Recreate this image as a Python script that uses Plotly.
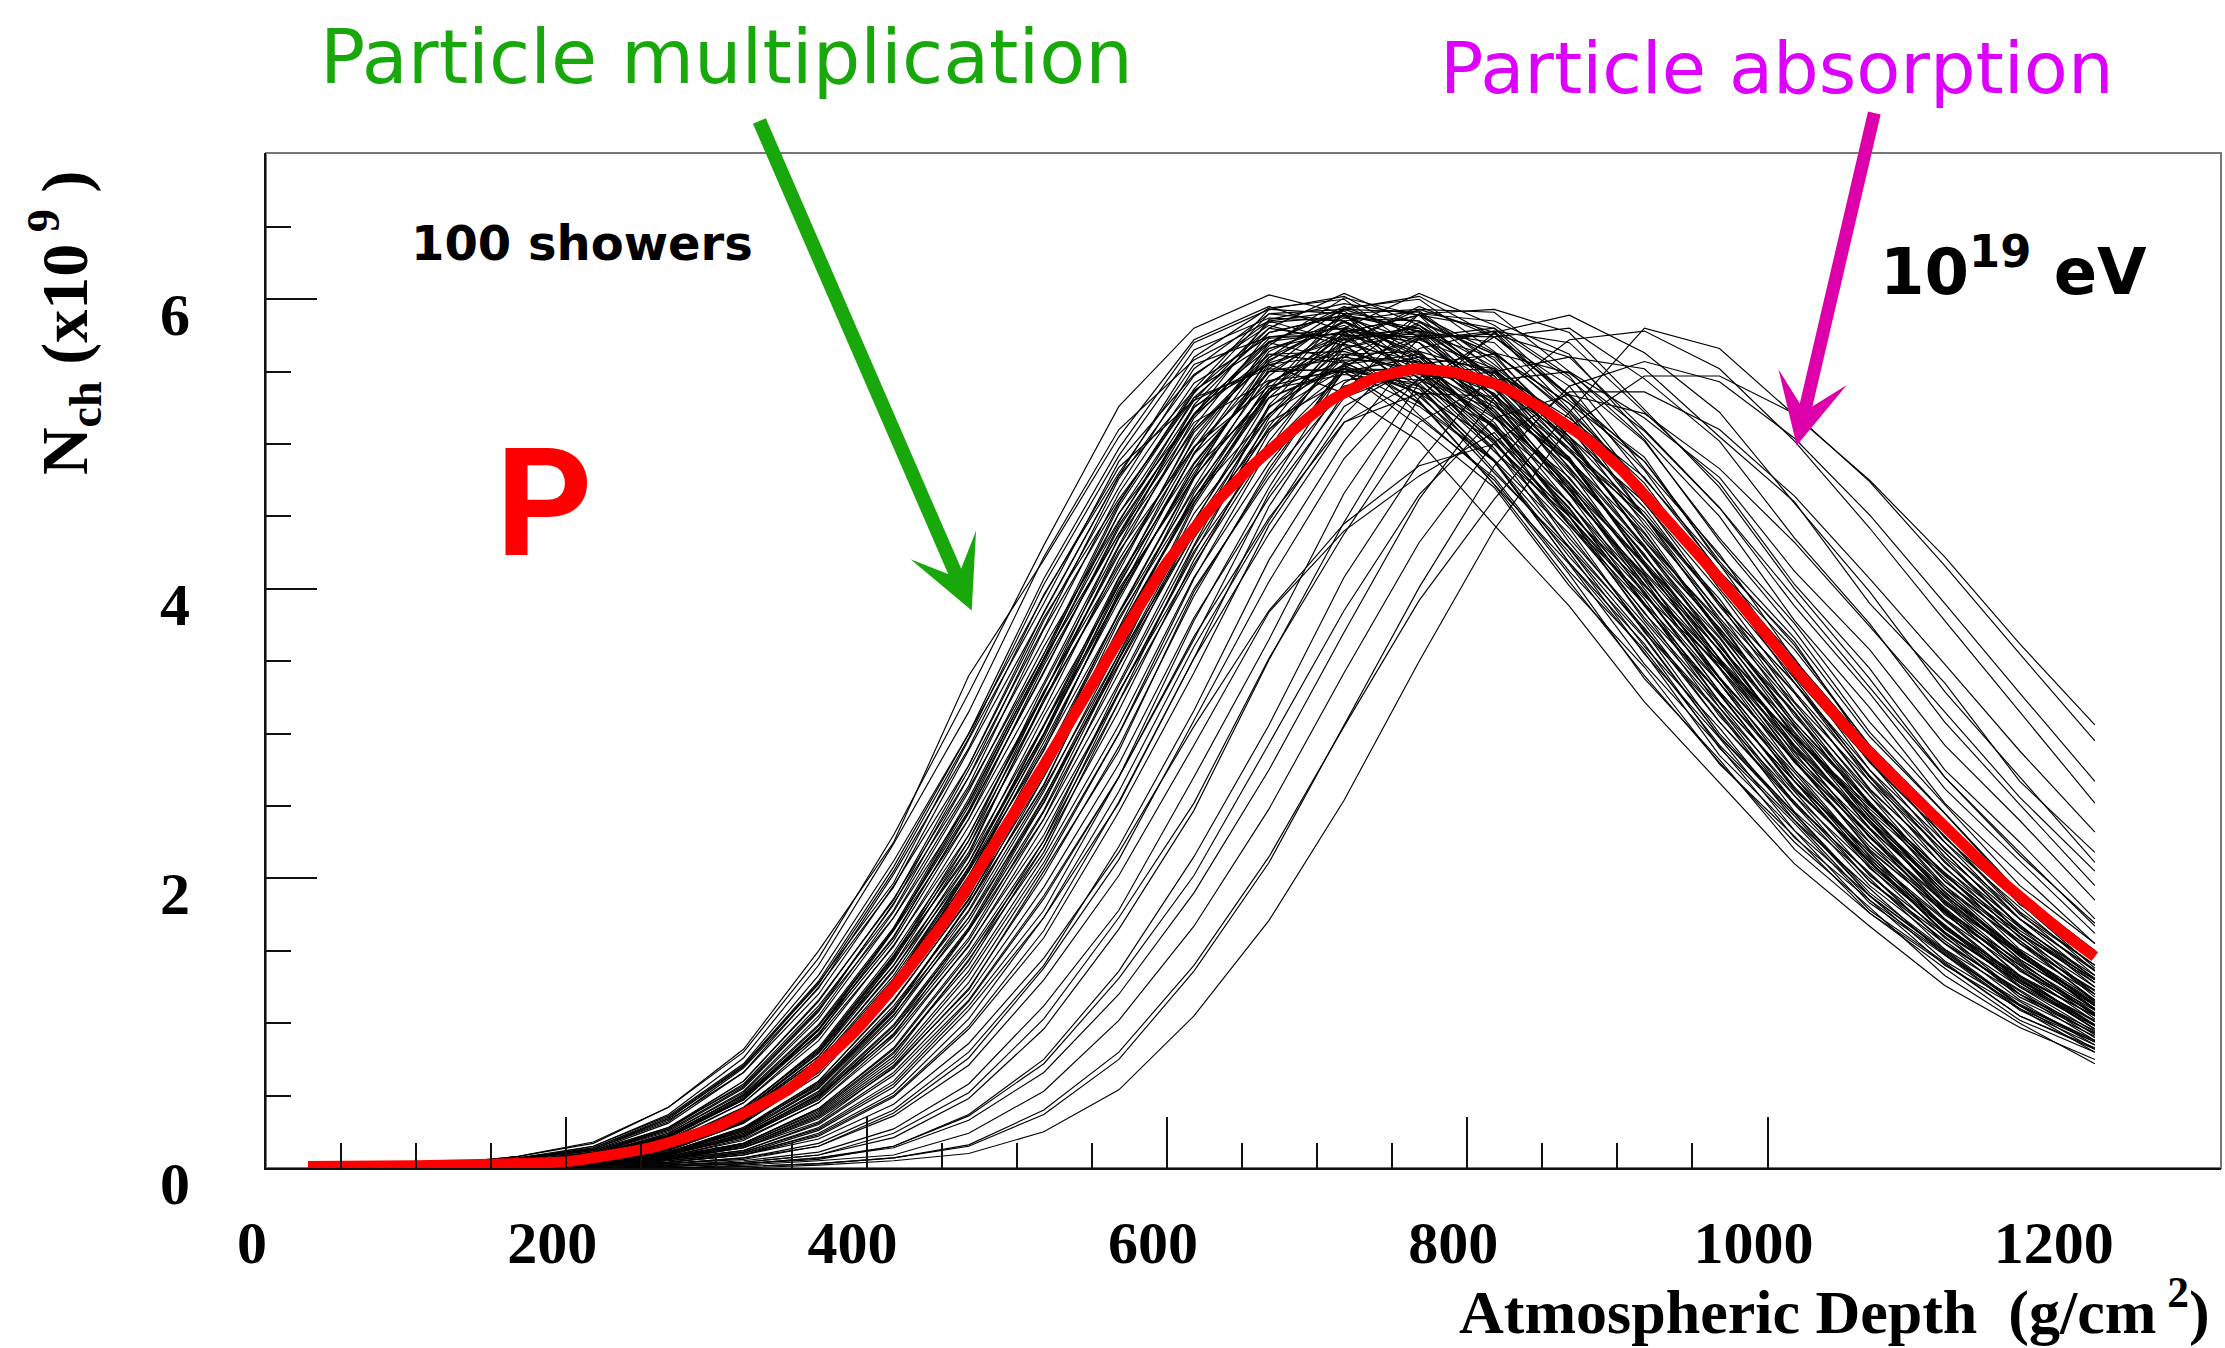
import plotly.graph_objects as go

# Atmospheric depth grid (g/cm^2) of the individual shower profiles
DEPTH = [118, 168, 218, 268, 318, 368, 418, 468, 518, 568, 618, 668,
         718, 768, 818, 868, 918, 968, 1018, 1068, 1118, 1168, 1218]

# Individual showers, N_ch (x10^9), grouped by depth of maximum
EARLY_SHOWERS = [
    [.03,.08,.17,.42,.82,1.50,2.25,3.40,4.20,5.05,5.72,5.95,5.78,5.30,4.72,4.05,3.40,2.80,2.25,1.80,1.33,1.00,.72],
    [.02,.06,.15,.37,.76,1.40,2.24,3.15,4.22,5.10,5.58,5.85,5.70,5.20,4.75,4.10,3.38,2.82,2.20,1.76,1.38,1.02,.80],
    [.03,.08,.18,.42,.80,1.45,2.30,3.28,4.30,5.26,5.80,6.03,5.90,5.40,4.88,4.18,3.56,2.85,2.33,1.78,1.42,1.05,.83],
    [.03,.07,.15,.36,.72,1.33,2.12,3.00,3.95,4.84,5.30,5.55,5.35,5.02,4.44,3.88,3.22,2.66,2.10,1.67,1.26,.97,.75],
    [.03,.06,.14,.34,.70,1.28,1.97,2.96,3.90,4.88,5.48,5.82,5.68,5.40,4.82,4.25,3.55,2.97,2.33,1.88,1.43,1.12,.82],
    [.03,.06,.14,.35,.71,1.29,2.08,3.00,4.07,4.97,5.70,5.93,5.90,5.50,5.03,4.32,3.71,3.00,2.45,1.90,1.51,1.13,.88],
    [.03,.06,.12,.31,.66,1.20,1.95,2.78,3.80,4.62,5.32,5.52,5.50,5.12,4.70,4.02,3.46,2.79,2.29,1.76,1.41,1.05,.82],
    [.03,.07,.13,.32,.69,1.24,2.03,2.90,3.96,4.80,5.55,5.74,5.76,5.33,4.88,4.18,3.62,2.90,2.38,1.83,1.47,1.09,.85],
    [.03,.06,.13,.33,.66,1.25,1.94,2.89,3.83,4.78,5.37,5.70,5.57,5.29,4.72,4.17,3.48,2.91,2.28,1.85,1.40,1.10,.80],
    [.03,.06,.13,.34,.70,1.27,2.05,2.97,4.03,4.92,5.65,5.87,5.85,5.45,4.97,4.28,3.67,2.98,2.43,1.88,1.49,1.12,.87],
    [.02,.05,.11,.27,.58,1.12,1.78,2.70,3.65,4.66,5.42,5.74,5.80,5.45,5.02,4.35,3.76,3.08,2.51,1.95,1.55,1.16,.91],
    [.02,.06,.12,.28,.60,1.15,1.86,2.70,3.78,4.70,5.52,5.90,5.85,5.62,5.05,4.50,3.78,3.18,2.52,2.03,1.55,1.22,.90],
    [.02,.05,.09,.24,.53,1.05,1.77,2.62,3.55,4.52,5.20,5.62,5.56,5.35,4.80,4.28,3.60,3.04,2.40,1.93,1.47,1.15,.85],
    [.02,.05,.10,.27,.60,1.16,1.85,2.78,3.84,4.78,5.60,5.94,6.00,5.64,5.20,4.50,3.90,3.18,2.60,2.02,1.62,1.20,.95],
    [.02,.04,.09,.24,.52,1.03,1.73,2.52,3.52,4.38,5.15,5.44,5.50,5.18,4.77,4.12,3.58,2.92,2.40,1.85,1.48,1.10,.87],
    [.02,.05,.10,.25,.55,1.08,1.83,2.64,3.72,4.60,5.36,5.80,5.72,5.52,4.95,4.42,3.70,3.14,2.46,2.00,1.51,1.20,.88],
    [.02,.05,.11,.28,.57,1.10,1.82,2.75,3.73,4.76,5.47,5.85,5.92,5.55,5.12,4.44,3.84,3.12,2.57,1.98,1.60,1.18,.93],
    [.02,.05,.10,.26,.56,1.09,1.73,2.60,3.60,4.47,5.26,5.55,5.62,5.28,4.88,4.22,3.66,2.98,2.45,1.88,1.50,1.12,.88],
]

MIDEARLY_SHOWERS = [
    [.02,.04,.09,.22,.49,.96,1.59,2.46,3.42,4.44,5.20,5.73,5.76,5.60,5.10,4.56,3.88,3.28,2.62,2.12,1.62,1.28,.96],
    [.02,.04,.10,.23,.50,.98,1.64,2.53,3.52,4.57,5.35,5.90,5.93,5.77,5.24,4.70,4.00,3.38,2.70,2.18,1.67,1.32,.99],
    [.02,.04,.08,.20,.45,.91,1.53,2.36,3.28,4.26,4.98,5.50,5.52,5.38,4.89,4.38,3.72,3.15,2.51,2.04,1.55,1.23,.92],
    [.02,.05,.10,.23,.50,.92,1.64,2.41,3.47,4.38,5.25,5.66,5.82,5.53,5.15,4.50,3.93,3.22,2.67,2.07,1.66,1.25,.98],
    [.02,.04,.09,.21,.48,.96,1.65,2.47,3.51,4.46,5.32,5.77,5.89,5.63,5.22,4.59,3.98,3.29,2.70,2.11,1.68,1.28,.99],
    [.02,.04,.09,.22,.47,.93,1.57,2.41,3.35,4.35,5.10,5.62,5.64,5.49,5.00,4.47,3.80,3.21,2.57,2.08,1.59,1.25,.94],
    [.02,.05,.09,.22,.51,.99,1.66,2.55,3.55,4.59,5.38,5.93,6.02,5.74,5.33,4.68,4.06,3.35,2.75,2.15,1.72,1.30,1.01],
    [.02,.04,.08,.19,.45,.88,1.54,2.30,3.29,4.17,4.98,5.40,5.52,5.26,4.88,4.29,3.73,3.08,2.53,1.98,1.57,1.20,.93],
    [.02,.04,.09,.21,.47,.95,1.60,2.45,3.43,4.42,5.21,5.71,5.77,5.58,5.11,4.55,3.89,3.27,2.63,2.11,1.63,1.28,.96],
    [.02,.04,.09,.22,.48,.95,1.65,2.50,3.49,4.52,5.30,5.84,5.88,5.70,5.20,4.65,3.96,3.35,2.67,2.16,1.65,1.31,.98],
    [.01,.03,.07,.17,.40,.80,1.40,2.22,3.16,4.20,5.02,5.66,5.78,5.70,5.22,4.73,4.03,3.45,2.75,2.25,1.72,1.37,1.01],
    [.01,.03,.08,.17,.41,.82,1.47,2.22,3.28,4.24,5.18,5.70,5.95,5.74,5.40,4.76,4.17,3.46,2.87,2.25,1.80,1.36,1.07],
    [.01,.03,.07,.15,.37,.75,1.36,2.15,3.06,4.08,4.87,5.50,5.60,5.52,5.05,4.60,3.90,3.35,2.67,2.18,1.66,1.33,.98],
    [.01,.03,.07,.17,.41,.83,1.49,2.26,3.33,4.30,5.27,5.80,6.04,5.82,5.47,4.83,4.24,3.51,2.91,2.28,1.83,1.38,1.09],
    [.01,.03,.06,.15,.36,.73,1.33,2.11,3.00,4.00,4.77,5.38,5.48,5.42,4.95,4.50,3.83,3.28,2.61,2.14,1.62,1.30,.96],
    [.01,.03,.07,.16,.38,.77,1.44,2.18,3.22,4.15,5.08,5.60,5.84,5.62,5.28,4.66,4.09,3.39,2.81,2.20,1.76,1.33,1.05],
    [.01,.03,.07,.16,.39,.79,1.43,2.26,3.22,4.29,5.12,5.77,5.89,5.80,5.33,4.82,4.11,3.52,2.81,2.29,1.75,1.40,1.03],
    [.01,.03,.07,.16,.38,.77,1.40,2.11,3.12,4.02,4.93,5.43,5.66,5.46,5.12,4.53,3.97,3.29,2.73,2.13,1.71,1.29,1.02],
    [.01,.03,.08,.18,.42,.81,1.46,2.16,3.24,4.12,5.10,5.58,5.85,5.60,5.30,4.65,4.10,3.38,2.82,2.19,1.77,1.32,1.05],
    [.01,.03,.07,.16,.39,.80,1.45,2.30,3.27,4.36,5.20,5.86,5.97,5.89,5.40,4.89,4.17,3.57,2.85,2.34,1.78,1.43,1.05],
    [.01,.03,.07,.15,.38,.75,1.37,2.07,3.06,3.94,4.83,5.32,5.54,5.35,5.02,4.44,3.89,3.22,2.67,2.09,1.67,1.26,.99],
    [.01,.03,.06,.14,.34,.69,1.24,2.02,2.91,3.95,4.83,5.54,5.75,5.74,5.34,4.88,4.19,3.61,2.91,2.38,1.84,1.47,1.10],
    [.01,.03,.06,.14,.35,.71,1.28,2.08,3.00,4.07,4.97,5.70,5.93,5.91,5.50,5.03,4.33,3.71,3.01,2.45,1.90,1.50,1.13],
    [.01,.03,.06,.12,.31,.66,1.20,1.94,2.79,3.80,4.63,5.32,5.52,5.51,5.13,4.69,4.03,3.46,2.80,2.29,1.77,1.40,1.06],
    [.01,.03,.07,.14,.32,.70,1.23,2.05,2.88,3.98,4.80,5.56,5.72,5.78,5.30,4.91,4.17,3.63,2.88,2.40,1.82,1.48,1.09],
    [.01,.03,.06,.13,.34,.68,1.29,2.01,2.99,3.97,4.94,5.57,5.89,5.78,5.47,4.90,4.30,3.61,3.00,2.38,1.91,1.46,1.14],
    [.01,.03,.06,.13,.33,.66,1.24,1.95,2.89,3.83,4.77,5.38,5.69,5.57,5.28,4.73,4.16,3.49,2.90,2.29,1.84,1.41,1.10],
    [.01,.03,.07,.14,.35,.72,1.31,2.06,3.05,4.05,5.04,5.68,6.01,5.89,5.58,5.00,4.39,3.69,3.06,2.42,1.95,1.49,1.16],
    [.01,.03,.06,.12,.31,.64,1.21,1.88,2.80,3.71,4.63,5.21,5.52,5.40,5.12,4.59,4.03,3.38,2.81,2.22,1.78,1.37,1.06],
    [.01,.03,.06,.13,.33,.67,1.27,1.99,2.94,3.92,4.86,5.50,5.79,5.70,5.38,4.84,4.23,3.57,2.95,2.35,1.87,1.44,1.12],
    [.01,.03,.06,.13,.34,.70,1.28,2.05,2.97,4.03,4.93,5.64,5.87,5.85,5.45,4.97,4.28,3.67,2.98,2.43,1.88,1.49,1.12],
    [.01,.03,.06,.13,.32,.67,1.21,1.96,2.82,3.83,4.68,5.36,5.58,5.57,5.19,4.72,4.07,3.49,2.83,2.31,1.79,1.42,1.07],
]

MIDLATE_SHOWERS = [
    [0,.02,.05,.11,.27,.58,1.12,1.78,2.70,3.65,4.66,5.42,5.74,5.80,5.45,5.02,4.35,3.76,3.08,2.51,1.95,1.55,1.16],
    [0,.02,.05,.11,.28,.60,1.15,1.86,2.70,3.78,4.70,5.52,5.90,5.85,5.62,5.05,4.50,3.78,3.18,2.52,2.03,1.55,1.22],
    [0,.02,.05,.09,.24,.53,1.05,1.77,2.62,3.55,4.52,5.20,5.62,5.56,5.35,4.80,4.28,3.60,3.04,2.40,1.93,1.47,1.15],
    [0,.02,.05,.10,.27,.60,1.16,1.85,2.78,3.84,4.78,5.60,5.94,6.00,5.64,5.20,4.50,3.90,3.18,2.60,2.02,1.62,1.20],
    [0,.02,.04,.09,.24,.52,1.03,1.73,2.52,3.52,4.38,5.15,5.44,5.50,5.18,4.77,4.12,3.58,2.92,2.40,1.85,1.48,1.10],
    [0,.02,.05,.10,.25,.55,1.08,1.83,2.64,3.72,4.60,5.36,5.80,5.72,5.52,4.95,4.42,3.70,3.14,2.46,2.00,1.51,1.20],
    [0,.02,.05,.11,.28,.57,1.10,1.82,2.75,3.73,4.76,5.47,5.85,5.92,5.55,5.12,4.44,3.84,3.12,2.57,1.98,1.60,1.18],
    [0,.02,.05,.10,.26,.56,1.09,1.73,2.60,3.60,4.47,5.26,5.55,5.62,5.28,4.88,4.22,3.66,2.98,2.45,1.88,1.50,1.12],
    [0,.02,.05,.10,.26,.59,1.08,1.82,2.65,3.70,4.62,5.42,5.70,5.82,5.40,5.05,4.33,3.78,3.05,2.52,1.93,1.57,1.15],
    [0,.02,.05,.10,.25,.55,1.06,1.70,2.56,3.48,4.44,5.10,5.50,5.44,5.24,4.70,4.18,3.52,2.97,2.34,1.89,1.44,1.13],
    [0,.02,.04,.09,.22,.49,.96,1.59,2.46,3.42,4.44,5.20,5.73,5.76,5.60,5.10,4.56,3.88,3.28,2.62,2.12,1.62,1.28],
    [0,.02,.04,.10,.23,.50,.98,1.64,2.53,3.52,4.57,5.35,5.90,5.93,5.77,5.24,4.70,4.00,3.38,2.70,2.18,1.67,1.31],
    [0,.02,.04,.08,.20,.45,.91,1.53,2.36,3.28,4.26,4.98,5.50,5.52,5.38,4.89,4.38,3.72,3.15,2.51,2.04,1.55,1.23],
    [0,.02,.05,.10,.23,.50,.92,1.64,2.41,3.47,4.38,5.25,5.66,5.82,5.53,5.15,4.50,3.93,3.22,2.67,2.07,1.66,1.25],
    [0,.02,.04,.09,.21,.48,.96,1.65,2.47,3.51,4.46,5.32,5.77,5.89,5.63,5.22,4.59,3.98,3.29,2.70,2.11,1.68,1.28],
    [0,.02,.04,.09,.22,.47,.93,1.57,2.41,3.35,4.35,5.10,5.62,5.64,5.49,5.00,4.47,3.80,3.21,2.57,2.08,1.59,1.25],
    [0,.02,.05,.09,.22,.51,.99,1.66,2.55,3.55,4.59,5.38,5.93,6.02,5.74,5.33,4.68,4.06,3.35,2.75,2.15,1.72,1.30],
    [0,.02,.04,.08,.19,.45,.88,1.54,2.30,3.29,4.17,4.98,5.40,5.52,5.26,4.88,4.29,3.73,3.08,2.53,1.98,1.57,1.20],
    [0,.01,.03,.07,.17,.40,.80,1.40,2.22,3.16,4.20,5.02,5.66,5.78,5.70,5.22,4.73,4.03,3.45,2.75,2.25,1.72,1.37],
    [0,.01,.03,.08,.17,.41,.82,1.47,2.22,3.28,4.24,5.18,5.70,5.95,5.74,5.40,4.76,4.17,3.46,2.87,2.25,1.80,1.36],
    [0,.01,.03,.07,.15,.37,.75,1.36,2.15,3.06,4.08,4.87,5.50,5.60,5.52,5.05,4.60,3.90,3.35,2.67,2.18,1.66,1.33],
    [0,.01,.03,.07,.17,.41,.83,1.49,2.26,3.33,4.30,5.27,5.80,6.04,5.82,5.47,4.83,4.24,3.51,2.91,2.28,1.83,1.38],
    [0,.01,.03,.06,.15,.36,.73,1.33,2.11,3.00,4.00,4.77,5.38,5.48,5.42,4.95,4.50,3.83,3.28,2.61,2.14,1.62,1.30],
    [0,.01,.03,.07,.16,.38,.77,1.44,2.18,3.22,4.15,5.08,5.60,5.84,5.62,5.28,4.66,4.09,3.39,2.81,2.20,1.76,1.33],
    [0,.01,.03,.07,.16,.39,.79,1.43,2.26,3.22,4.29,5.12,5.77,5.89,5.80,5.33,4.82,4.11,3.52,2.81,2.29,1.75,1.40],
]

LATE_SHOWERS = [
    [0,.01,.03,.06,.14,.34,.69,1.24,2.02,2.91,3.95,4.83,5.54,5.75,5.74,5.34,4.88,4.19,3.61,2.91,2.38,1.84,1.47],
    [0,.01,.03,.06,.14,.35,.71,1.28,2.08,3.00,4.07,4.97,5.70,5.93,5.91,5.50,5.03,4.33,3.71,3.01,2.45,1.90,1.50],
    [0,.01,.03,.06,.12,.31,.66,1.20,1.94,2.79,3.80,4.63,5.32,5.52,5.51,5.13,4.69,4.03,3.46,2.80,2.29,1.77,1.40],
    [0,.01,.03,.07,.14,.32,.70,1.23,2.05,2.88,3.98,4.80,5.56,5.72,5.78,5.30,4.91,4.17,3.63,2.88,2.40,1.82,1.48],
    [0,.01,.03,.06,.12,.30,.64,1.16,1.88,2.70,3.67,4.49,5.15,5.35,5.33,4.97,4.53,3.90,3.35,2.71,2.21,1.72,1.36],
    [0,0,.02,.05,.11,.27,.58,1.12,1.78,2.70,3.65,4.66,5.42,5.74,5.80,5.45,5.02,4.35,3.76,3.08,2.51,1.95,1.55],
    [0,0,.02,.05,.11,.28,.60,1.15,1.86,2.70,3.78,4.70,5.52,5.90,5.85,5.62,5.05,4.50,3.78,3.18,2.52,2.03,1.55],
    [0,0,.02,.04,.09,.24,.52,1.03,1.73,2.52,3.52,4.38,5.15,5.44,5.50,5.18,4.77,4.12,3.58,2.92,2.40,1.85,1.48],
    [0,0,.02,.05,.10,.26,.56,1.09,1.73,2.60,3.60,4.47,5.26,5.55,5.62,5.28,4.88,4.22,3.66,2.98,2.45,1.88,1.50],
    [0,.01,.02,.04,.09,.22,.49,.96,1.59,2.46,3.42,4.44,5.20,5.73,5.76,5.60,5.10,4.56,3.88,3.28,2.62,2.12,1.62],
    [0,.01,.02,.04,.10,.23,.50,.98,1.64,2.53,3.52,4.57,5.35,5.90,5.93,5.77,5.24,4.70,4.00,3.38,2.70,2.18,1.67],
    [0,.01,.02,.04,.09,.20,.44,.86,1.45,2.18,3.05,3.85,4.45,4.85,5.00,4.52,4.02,3.50,2.98,2.48,2.02,1.62,1.28],
    [0,0,.01,.03,.07,.17,.40,.80,1.40,2.22,3.16,4.20,5.02,5.66,5.78,5.70,5.22,4.73,4.03,3.45,2.75,2.25,1.72],
    [0,0,.01,.03,.06,.15,.36,.71,1.30,2.02,2.92,3.84,4.40,4.78,5.08,4.45,3.95,3.48,2.98,2.50,2.04,1.64,1.30],
    [0,0,.01,.03,.07,.15,.38,.76,1.38,2.13,3.09,4.05,4.90,5.46,5.63,5.49,5.09,4.56,3.94,3.32,2.70,2.16,1.69],
]

VERYLATE_SHOWERS = [
    [0,0,0,.02,.05,.11,.27,.58,1.12,1.78,2.70,3.65,4.66,5.42,5.74,5.80,5.45,5.02,4.35,3.76,3.08,2.51,1.95],
    [0,0,0,.02,.04,.09,.24,.52,1.03,1.73,2.52,3.52,4.38,5.15,5.44,5.50,5.18,4.77,4.12,3.58,2.92,2.40,1.85],
    [0,0,.01,.02,.04,.09,.21,.48,.96,1.65,2.47,3.51,4.46,5.32,5.77,5.89,5.63,5.22,4.59,3.98,3.29,2.70,2.11],
    [0,0,0,.01,.03,.07,.15,.37,.75,1.36,2.15,3.06,4.08,4.87,5.50,5.60,5.52,5.05,4.60,3.90,3.35,2.67,2.18],
    [0,0,0,.01,.03,.06,.15,.36,.72,1.31,2.02,2.93,3.85,4.65,5.18,5.34,5.21,4.83,4.32,3.74,3.15,2.56,2.05],
    [0,0,0,0,.02,.05,.09,.24,.53,1.02,1.67,2.48,3.42,4.32,5.01,5.36,5.36,5.10,4.64,4.07,3.48,2.88,2.32],
    [0,0,0,.01,.03,.07,.14,.33,.66,1.20,1.90,2.75,3.70,4.62,5.32,5.72,5.78,5.52,5.02,4.42,3.78,3.15,2.52],
    [0,0,0,0,.01,.03,.07,.15,.37,.75,1.36,2.11,3.06,4.01,4.85,5.40,5.57,5.43,5.04,4.51,3.90,3.28,2.67],
    [0,0,0,0,.01,.03,.07,.16,.40,.80,1.40,2.15,3.05,3.92,4.62,5.22,5.80,5.66,5.20,4.75,4.22,3.62,3.06],
    [0,0,0,0,0,.02,.05,.10,.25,.54,1.05,1.71,2.54,3.50,4.41,5.12,5.47,5.47,5.21,4.74,4.16,3.55,2.95],
]

# Average profile (red)
MEAN_DEPTH = [28, 100, 150, 200, 256, 300, 349, 391, 422, 456, 500, 518, 567, 600, 633, 658, 680,
              709, 737, 766, 793, 822, 849, 880, 902, 931, 957, 982, 1022, 1066, 1111, 1155, 1200, 1218]
MEAN_NCH = [0.01, 0.016, 0.026, 0.044, 0.14, 0.285, 0.55, 0.93, 1.30, 1.76, 2.48, 2.78, 3.63, 4.18, 4.60,
            4.86, 5.06, 5.30, 5.45, 5.52, 5.49, 5.40, 5.25, 5.03, 4.83, 4.50, 4.20, 3.90, 3.40, 2.89,
            2.43, 1.99, 1.60, 1.46]

# Axis ticks
X_LABELS = [0, 200, 400, 600, 800, 1000, 1200]
X_MAJOR = [200, 400, 600, 800, 1000]
X_MINOR = [50, 100, 150, 250, 300, 350, 450, 500, 550, 650, 700, 750, 850, 900, 950]
Y_MAJOR = [0, 2, 4, 6]
Y_MINOR = [0.5, 1, 1.5, 2.5, 3, 3.5, 4.5, 5, 5.5, 6.5]
X_RANGE = [0, 1302]
Y_RANGE = [0, 7.01]

SERIF = "Liberation Serif"
HAND = "DejaVu Sans"
AXC = "#111111"

fig = go.Figure()
for group in (EARLY_SHOWERS, MIDEARLY_SHOWERS, MIDLATE_SHOWERS, LATE_SHOWERS, VERYLATE_SHOWERS):
    for row in group:
        fig.add_trace(go.Scatter(x=DEPTH[:len(row)], y=row, mode="lines",
                                 line=dict(color="black", width=1.15),
                                 hoverinfo="skip", showlegend=False))

fig.add_trace(go.Scatter(x=MEAN_DEPTH, y=MEAN_NCH, mode="lines", xaxis="x2", yaxis="y",
                         line=dict(color="#ff0000", width=11, shape="spline", smoothing=0.5),
                         hoverinfo="skip", showlegend=False))

tickfont = dict(family=SERIF, size=60, color="black", weight="bold")

fig.update_layout(
    width=2225, height=1348,
    margin=dict(l=266, r=4, t=153, b=180),
    paper_bgcolor="white", plot_bgcolor="white",
    showlegend=False,
    xaxis=dict(range=X_RANGE, tickmode="array", tickvals=X_LABELS,
               ticktext=[str(v) for v in X_LABELS], ticks="",
               showline=True, linecolor=AXC, linewidth=2, showgrid=False, zeroline=False,
               tickfont=tickfont, ticklabelshift=-14, ticklabelstandoff=21),
    xaxis2=dict(overlaying="x", anchor="y", side="bottom", range=X_RANGE,
                tickmode="array", tickvals=X_MAJOR, ticks="inside", ticklen=51,
                tickwidth=2, tickcolor=AXC, showticklabels=False,
                showgrid=False, zeroline=False, showline=False,
                minor=dict(tickmode="array", tickvals=X_MINOR, ticks="inside",
                           ticklen=25, tickwidth=2, tickcolor=AXC, showgrid=False)),
    yaxis=dict(range=Y_RANGE, tickmode="array", tickvals=Y_MAJOR,
               ticktext=[str(v) for v in Y_MAJOR], ticks="inside", ticklen=51,
               tickwidth=2, tickcolor=AXC, showline=True, linecolor=AXC, linewidth=2,
               showgrid=False, zeroline=False, tickfont=tickfont,
               ticklabelstandoff=62, ticklabelshift=15,
               minor=dict(tickmode="array", tickvals=Y_MINOR, ticks="inside",
                          ticklen=25, tickwidth=2, tickcolor=AXC, showgrid=False)),
    shapes=[dict(type="rect", xref="paper", yref="paper", x0=0, x1=1, y0=0, y1=1,
                 line=dict(color="#777777", width=2), layer="below")],
)

annotations = [
    dict(text="<b>N<sub>ch</sub> (x10<sup> 9</sup> )</b>", xref="paper", yref="paper",
         x=-0.1033, y=0.8325, xanchor="center", yanchor="middle", textangle=-90,
         showarrow=False, font=dict(family=SERIF, size=66, color="black")),
    dict(text="<b>Atmospheric Depth &nbsp;(g/cm<sup> 2</sup>)</b>", xref="paper", yref="paper",
         x=0.9954, y=-0.137, xanchor="right", yanchor="middle", showarrow=False,
         font=dict(family=SERIF, size=62, color="black")),
    dict(text="Particle multiplication", xref="paper", yref="paper",
         x=0.2358, y=1.0946, xanchor="center", yanchor="middle", showarrow=False,
         font=dict(family=HAND, size=75, color="#19a80b")),
    dict(text="Particle absorption", xref="paper", yref="paper",
         x=0.7729, y=1.084, xanchor="center", yanchor="middle", showarrow=False,
         font=dict(family=HAND, size=72, color="#dd00ff")),
    dict(text="<b>100 showers</b>", xref="paper", yref="paper",
         x=0.1616, y=0.911, xanchor="center", yanchor="middle", showarrow=False,
         font=dict(family=HAND, size=48, color="black")),
    dict(text="<b>10<sup>19</sup> eV</b>", xref="paper", yref="paper",
         x=0.8941, y=0.888, xanchor="center", yanchor="middle", showarrow=False,
         font=dict(family=HAND, size=64, color="black")),
    dict(text="<b>P</b>", xref="paper", yref="paper",
         x=0.1427, y=0.654, xanchor="center", yanchor="middle", showarrow=False,
         font=dict(family="Liberation Sans Narrow, Roboto", size=150, color="#ff0000")),
    dict(text="", x=470, y=3.85, xref="x", yref="y", ax=-213, ay=-491,
         axref="pixel", ayref="pixel", showarrow=True, arrowhead=3, arrowsize=0.85,
         arrowwidth=14, arrowcolor="#19a80b", standoff=0),
    dict(text="", x=1019.4, y=4.99, xref="x", yref="y", ax=78, ay=-334,
         axref="pixel", ayref="pixel", showarrow=True, arrowhead=3, arrowsize=0.9,
         arrowwidth=13, arrowcolor="#dd00aa", standoff=0),
]
fig.update_layout(annotations=annotations)

fig.write_html("out.html")
